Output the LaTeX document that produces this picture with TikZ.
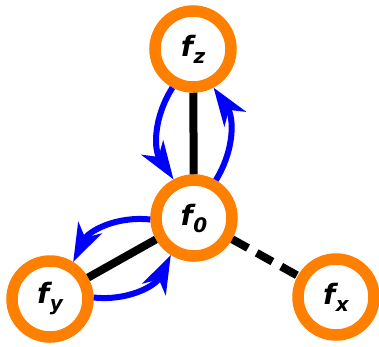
\documentclass[tikz,border=0pt]{standalone}
\usepackage{fontspec}
\setmainfont{DejaVu Sans}
\usetikzlibrary{arrows.meta}
\definecolor{ringorange}{RGB}{255,128,0}
\definecolor{arcblue}{RGB}{0,0,255}
\newcommand{\lbl}[2]{{\fontsize{28}{28}\selectfont\bfseries\itshape #1\kern0.5pt\raisebox{-7pt}{\fontsize{20}{20}\selectfont #2}}}
\begin{document}
\begin{tikzpicture}[x=1pt,y=-1pt,
  ring/.style={circle,draw=ringorange,line width=11.5pt,fill=white,minimum size=76pt,inner sep=0pt},
  edge/.style={line width=8pt,black},
  dashedge/.style={line width=8pt,black,dash pattern=on 18pt off 10pt},
  flow/.style={line width=6pt,arcblue,-{Stealth[length=38pt,width=26pt,inset=11pt]}}]
\useasboundingbox (0,0) rectangle (379,346);
\node[ring] (fz) at (193,49) {\lbl{f}{z}};
\node[ring] (f0) at (194,218) {\lbl{f}{0}};
\node[ring] (fy) at (50,299) {\lbl{f}{y}};
\node[ring] (fx) at (336,297) {\lbl{f}{x}};
\draw[edge] (fz) -- (f0);
\draw[edge] (f0) -- (fy);
\draw[dashedge] (f0) -- (fx);
\draw[flow] (fz.242) to[bend right=33] (f0.118);
\draw[flow] (f0.60) to[bend right=33] (fz.298);
\draw[flow] (f0.182) to[bend right=35] (fy.58);
\draw[flow] (fy.2) to[bend right=35] (f0.238);
\end{tikzpicture}
\end{document}
